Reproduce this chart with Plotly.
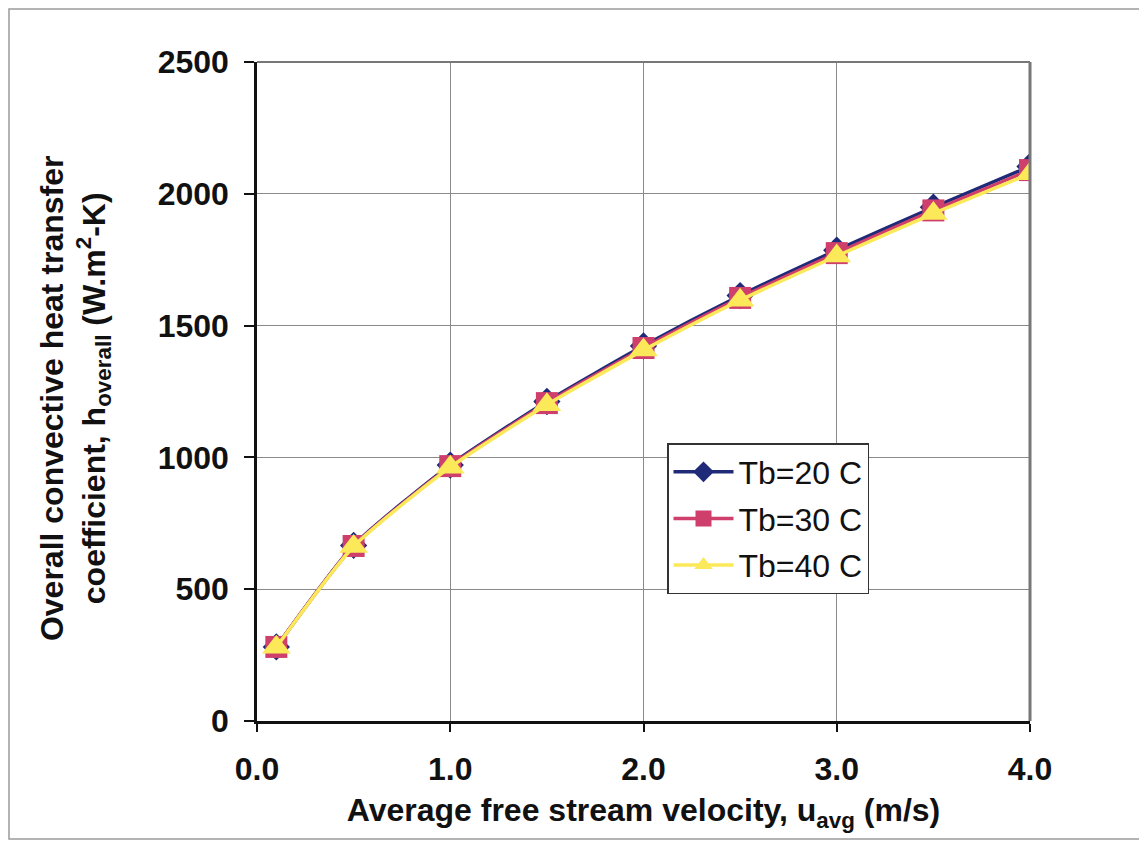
import plotly.graph_objects as go

velocity = [0.1, 0.5, 1.0, 1.5, 2.0, 2.5, 3.0, 3.5, 4.0]
h_tb20 = [281, 666, 971, 1212, 1423, 1614, 1786, 1949, 2104]
h_tb30 = [281, 664, 967, 1206, 1415, 1605, 1775, 1937, 2090]
h_tb40 = [280, 662, 963, 1200, 1407, 1596, 1764, 1925, 2076]
series_names = ["Tb=20 C", "Tb=30 C", "Tb=40 C"]
x_ticks = [0, 1, 2, 3, 4]
x_tick_labels = ["0.0", "1.0", "2.0", "3.0", "4.0"]
y_ticks = [0, 500, 1000, 1500, 2000, 2500]

# page has an 8px body margin, so figure coords = page coords - 8
W, H = 1139, 834
L, R, T, B = 249, 1022, 54, 713

fig = go.Figure()
styles = [
    dict(color="#1f2a78", symbol="diamond", size=21),
    dict(color="#cf3f6b", symbol="square", size=22),
    dict(color="#fbe95a", symbol="triangle-up", size=25),
]
for name, ys, st in zip(series_names, [h_tb20, h_tb30, h_tb40], styles):
    fig.add_trace(go.Scatter(
        x=velocity, y=ys, name=name, mode="lines+markers",
        legendgroup=name,
        line=dict(color=st["color"], width=3.5, shape="spline", smoothing=0.6),
        marker=dict(color=st["color"], symbol=st["symbol"], size=st["size"],
                    line=dict(width=0)),
    ))

font_family = "Liberation Sans, Arial, sans-serif"

fig.update_layout(
    width=W, height=H,
    margin=dict(l=L, r=W - R, t=T, b=H - B, autoexpand=False),
    paper_bgcolor="white", plot_bgcolor="white",
    font=dict(family=font_family, color="#111111"),
    showlegend=True,
    legend=dict(
        x=(659 - L) / (R - L), y=(B - 435) / (B - T),
        xanchor="left", yanchor="top",
        bgcolor="white", bordercolor="#333333", borderwidth=1.5,
        font=dict(size=32, family=font_family, color="#111111"),
        tracegroupgap=2,
        itemwidth=60,
    ),
    xaxis=dict(
        range=[0, 4], tickvals=x_ticks, ticktext=x_tick_labels,
        showgrid=True, gridcolor="#8a8a8a", gridwidth=1,
        showline=True, linecolor="#111111", linewidth=2.5,
        ticks="outside", ticklen=8, tickcolor="#111111", tickwidth=1.5,
        ticklabelstandoff=10,
        tickfont=dict(size=32, family=font_family, color="#111111", weight="bold"),
        mirror=False, zeroline=False,
        title=dict(
            text="<b>Average free stream velocity, u<sub>avg</sub> (m/s)</b>",
            font=dict(size=32, family=font_family, color="#111111"),
            standoff=13,
        ),
    ),
    yaxis=dict(
        range=[0, 2500], tickvals=y_ticks,
        showgrid=True, gridcolor="#8a8a8a", gridwidth=1,
        showline=True, linecolor="#111111", linewidth=2.5,
        ticks="outside", ticklen=10, tickcolor="#111111", tickwidth=1.5,
        ticklabelstandoff=9,
        tickfont=dict(size=32, family=font_family, color="#111111", weight="bold"),
        zeroline=False,
    ),
    annotations=[
        dict(
            text="<b>Overall convective heat transfer<br>coefficient, h<sub>overall</sub> (W.m<sup>2</sup>-K)</b>",
            xref="paper", yref="paper",
            x=(67 - L) / (R - L), y=0.49,
            xanchor="center", yanchor="middle",
            textangle=-90, showarrow=False,
            font=dict(size=32, family=font_family, color="#111111"),
        )
    ],
    shapes=[
        dict(type="line", xref="paper", yref="paper", x0=1, x1=1, y0=0, y1=1,
             line=dict(color="#777777", width=3)),
        dict(type="line", xref="paper", yref="paper", x0=0, x1=1, y0=1, y1=1,
             line=dict(color="#777777", width=2)),
        dict(type="rect", xref="paper", yref="paper",
             x0=(1 - L) / (R - L), x1=(1132 - L) / (R - L),
             y0=(B - 831) / (B - T), y1=(B - 1) / (B - T),
             line=dict(color="#9a9a9a", width=1.5), layer="below"),
    ],
)

fig.write_html("out.html")
